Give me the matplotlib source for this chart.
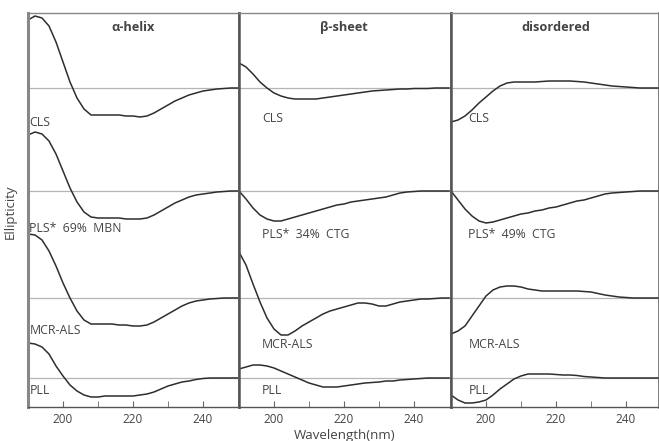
import matplotlib
matplotlib.use("Agg")
import matplotlib.pyplot as plt
from matplotlib.ticker import FixedLocator

plt.rcParams['font.family'] = ['Open Sans', 'DejaVu Sans']

# ---------------- data ----------------
wavelength = list(range(190, 251, 2))

panels = ["α-helix", "β-sheet", "disordered"]
methods = ["CLS", "PLS", "MCR-ALS", "PLL"]

helix_cls = [68, 72, 70, 62, 46, 26, 6, -10, -21, -27, -27, -27, -27, -27, -28, -28,
             -29, -28, -25, -21, -17, -13, -10, -7, -5, -3, -2, -1, -0.5, 0, 0]
helix_pls = [56, 59, 57, 50, 37, 20, 3, -11, -21, -26, -27, -27, -27, -27, -28, -28,
             -28, -27, -24, -20, -16, -12, -9, -6, -4, -3, -2, -1, -0.5, 0, 0]
helix_mcr = [64, 63, 58, 47, 32, 15, 0, -13, -22, -26, -26, -26, -26, -27, -27, -28,
             -28, -27, -24, -20, -16, -12, -8, -5, -3, -2, -1, -0.5, 0, 0, 0]
helix_pll = [35, 34, 31, 24, 12, 2, -7, -13, -17, -19, -19, -18, -18, -18, -18, -18,
             -17, -16, -14, -11, -8, -6, -4, -3, -1.5, -0.5, 0, 0, 0, 0, 0]

sheet_cls = [25, 21, 14, 6, 0, -5, -8, -10, -11, -11, -11, -11, -10, -9, -8, -7,
             -6, -5, -4, -3, -2.5, -2, -1.5, -1, -1, -0.5, -0.5, -0.5, 0, 0, 0]
sheet_pls = [0, -8, -17, -24, -28, -30, -30, -28, -26, -24, -22, -20, -18, -16, -14, -13,
             -11, -10, -9, -8, -7, -6, -4, -2, -1, -0.5, 0, 0, 0, 0, 0]
sheet_mcr = [46, 33, 14, -4, -20, -31, -37, -37, -33, -28, -24, -20, -16, -13, -11, -9,
             -7, -5, -5, -6, -8, -8, -6, -4, -3, -2, -1, -1, -0.5, 0, 0]
sheet_pll = [9, 11, 13, 13, 12, 10, 7, 4, 1, -2, -5, -7, -9, -9, -9, -8,
             -7, -6, -5, -4.5, -4, -3, -3, -2, -1.5, -1, -0.5, 0, 0, 0, 0]

dis_cls = [-34, -32, -28, -22, -15, -9, -3, 2, 5, 6, 6, 6, 6, 6.5, 7, 7,
           7, 7, 6.5, 6, 5, 4, 3, 2, 1.5, 1, 0.5, 0, 0, 0, 0]
dis_pls = [0, -9, -18, -25, -30, -32, -31, -29, -27, -25, -23, -22, -20, -19, -17, -16,
           -14, -12, -10, -9, -7, -5, -3, -2, -1.5, -1, -0.5, 0, 0, 0, 0]
dis_mcr = [-36, -33, -28, -18, -8, 2, 8, 11, 12, 12, 11, 9, 8, 7, 7, 7,
           7, 7, 7, 6.5, 6, 4.5, 3, 2, 1, 0.5, 0, 0, 0, 0, 0]
dis_pll = [-17, -22, -25, -25, -24, -22, -17, -11, -6, -1, 2, 4, 4, 4, 4, 3.5,
           3, 3, 2.5, 1.5, 1, 0.5, 0, 0, 0, 0, 0, 0, 0, 0, 0]

curves = [
    [helix_cls, helix_pls, helix_mcr, helix_pll],
    [sheet_cls, sheet_pls, sheet_mcr, sheet_pll],
    [dis_cls, dis_pls, dis_mcr, dis_pll],
]

curve_labels = [
    ["CLS", "PLS*  69%  MBN", "MCR-ALS", "PLL"],
    ["CLS", "PLS*  34%  CTG", "MCR-ALS", "PLL"],
    ["CLS", "PLS*  49%  CTG", "MCR-ALS", "PLL"],
]

# ---------------- layout ----------------
W, H = 659, 441
fig = plt.figure(figsize=(W / 100, H / 100), dpi=100)

baselines = [319, 216, 109, 29]          # vertical offsets of the stacked spectra
label_y = [[285, 179, 77, 17], [289, 173, 62, 17], [289, 173, 62, 17]]
label_x = [190.4, 196.6, 195.0]
px_per_nm = 3.5
panel_left = [28, 239, 451]
panel_width = [211, 212, 208]
top, bottom = 13, 407

text_color = "#444444"
line_color = "#2e2e2e"

axes = []
for i in range(3):
    ax = fig.add_axes([panel_left[i] / W, (H - bottom) / H,
                       panel_width[i] / W, (bottom - top) / H])
    axes.append(ax)
    xmax = 190 + panel_width[i] / px_per_nm
    ax.set_xlim(190, xmax)
    ax.set_ylim(0, bottom - top)

    for j in range(4):
        ax.axhline(baselines[j], color="#b5b5b5", lw=0.9, zorder=1)
        ys = [baselines[j] + v for v in curves[i][j]]
        ax.plot(wavelength, ys, color=line_color, lw=1.1, zorder=2,
                solid_joinstyle="round")
        ax.text(label_x[i], label_y[i][j], curve_labels[i][j], fontsize=8.8,
                color=text_color, va="center", ha="left")

    ax.text(220, 380, panels[i], fontsize=9.2, fontweight="bold",
            color=text_color, ha="center", va="center")

    ax.xaxis.set_major_locator(FixedLocator([200, 220, 240]))
    ax.xaxis.set_minor_locator(FixedLocator([210, 230]))
    ax.tick_params(axis="x", which="both", direction="in", length=4,
                   color="#666666", labelsize=8.5, labelcolor=text_color, pad=4)
    ax.set_yticks([])

    for s in ax.spines.values():
        s.set_color("#555555")
        s.set_linewidth(1.0)
    ax.spines["top"].set_color("#888888")
    ax.spines["left"].set_linewidth(1.8)
    ax.spines["right"].set_linewidth(1.8)

axes[0].spines["left"].set_color("#888888")
axes[0].spines["left"].set_linewidth(2.2)

fig.text(10 / W, 1 - 212 / H, "Ellipticity", rotation=90, fontsize=9.5,
         color=text_color, ha="center", va="center")
fig.text(345 / W, 1 - 435 / H, "Wavelength(nm)", fontsize=9.5,
         color=text_color, ha="center", va="center")

fig.savefig("out.png", dpi=100)
